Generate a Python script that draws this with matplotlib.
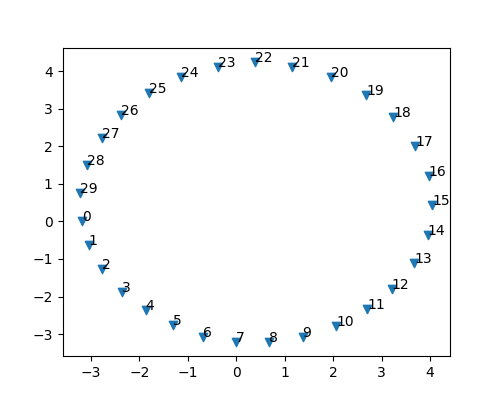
import matplotlib

matplotlib.use("Agg")
import matplotlib.pyplot as plt

# 各点の座標
x = [-3.18, -3.04, -2.77, -2.36, -1.87, -1.30, -0.68, 0.00, 0.68, 1.37,
     2.07, 2.71, 3.21, 3.68, 3.95, 4.05, 3.97, 3.70, 3.24, 2.69,
     1.96, 1.16, 0.39, -0.37, -1.14, -1.80, -2.38, -2.77, -3.07, -3.22]
y = [0.02, -0.64, -1.28, -1.89, -2.35, -2.77, -3.07, -3.21, -3.21, -3.09,
     -2.79, -2.33, -1.81, -1.12, -0.37, 0.43, 1.22, 2.01, 2.77, 3.35,
     3.83, 4.12, 4.24, 4.12, 3.83, 3.41, 2.82, 2.21, 1.50, 0.75]
labels = [str(i) for i in range(len(x))]

fig, ax = plt.subplots(figsize=(5, 4), dpi=100)
ax.scatter(x, y, marker="v")

# 番号を点の横に表示
for i, txt in enumerate(labels):
    ax.annotate(txt, (x[i], y[i]))

plt.savefig("out.png")
plt.close()
